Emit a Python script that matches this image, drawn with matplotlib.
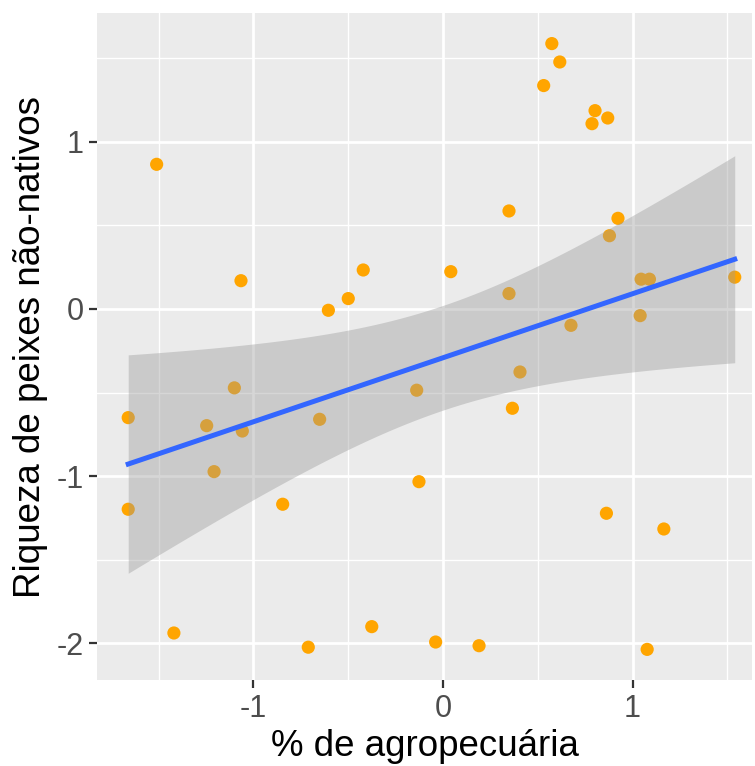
import numpy as np
import matplotlib.pyplot as plt

plt.rcParams['font.family'] = ['Liberation Sans', 'DejaVu Sans']
plt.rcParams['axes.unicode_minus'] = False

# % de agropecuária (padronizado) e riqueza de peixes não-nativos (padronizada)
agro = [-1.511, -1.066, -0.605, -0.500, -0.421,
        0.574, 0.616, 0.531, 0.802, 0.786, 0.869, 0.348, 0.923, 0.878,
        0.041, 0.348, 1.045, 1.089, 1.539, 1.040, 0.675,
        -1.661, -1.661, -1.101, -1.247, -1.059, -1.208, -0.651, -0.139,
        -0.127, -0.846, -1.420, -0.711, -0.376,
        0.406, 0.366, 0.862, 1.165, -0.039, 0.190, 1.077]
riqueza = [0.865, 0.169, -0.008, 0.062, 0.233,
           1.587, 1.477, 1.336, 1.186, 1.108, 1.142, 0.586, 0.542, 0.438,
           0.223, 0.092, 0.178, 0.178, 0.190, -0.040, -0.098,
           -0.650, -1.198, -0.472, -0.698, -0.730, -0.973, -0.660, -0.486,
           -1.033, -1.168, -1.938, -2.023, -1.900,
           -0.377, -0.594, -1.222, -1.316, -1.992, -2.014, -2.036]

x = np.array(agro)
y = np.array(riqueza)
n = len(x)

# ajuste linear + IC 95% (como geom_smooth(method = "lm"))
b1, b0 = np.polyfit(x, y, 1)
resid = y - (b0 + b1 * x)
s = np.sqrt(np.sum(resid ** 2) / (n - 2))
sxx = np.sum((x - x.mean()) ** 2)
t = 2.0227  # t(0.975, 39)
xs = np.linspace(x.min(), x.max(), 80)
ys = b0 + b1 * xs
se = s * np.sqrt(1 / n + (xs - x.mean()) ** 2 / sxx)

fig = plt.figure(figsize=(7.55, 7.66), dpi=100)
ax = fig.add_axes([0.1289, 0.1123, 0.996 - 0.1289, 0.9826 - 0.1123])
ax.set_facecolor('#EBEBEB')

ax.scatter(x, y, s=90, color='#FFA500', edgecolors='none', zorder=3)
ax.fill_between(xs, ys - t * se, ys + t * se, color='#999999', alpha=0.4,
                linewidth=0, zorder=4)
ax.plot(xs, ys, color='#3366FF', linewidth=3.6, zorder=5)

ax.set_xlim(-1.824, 1.63)
ax.set_ylim(-2.219, 1.768)
ax.set_xticks([-1, 0, 1])
ax.set_yticks([-2, -1, 0, 1])
ax.set_xticks([-1.5, -0.5, 0.5, 1.5], minor=True)
ax.set_yticks([-1.5, -0.5, 0.5, 1.5], minor=True)
ax.grid(which='major', color='white', linewidth=2.0, zorder=0)
ax.grid(which='minor', color='white', linewidth=1.0, zorder=0)
ax.set_axisbelow(True)
for sp in ax.spines.values():
    sp.set_visible(False)

ax.tick_params(which='major', length=6, width=1.6, color='#333333',
               labelsize=22, labelcolor='#4D4D4D', pad=4)
ax.tick_params(which='minor', length=0)

ax.set_xlabel('% de agropecuária', fontsize=26.5, color='black', labelpad=4)
ax.set_ylabel('Riqueza de peixes não-nativos', fontsize=26.5, color='black',
              labelpad=6)

fig.savefig('out.png', dpi=100)
